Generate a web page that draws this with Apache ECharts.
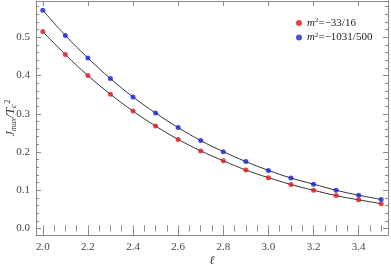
<!DOCTYPE html>
<html><head><meta charset="utf-8">
<script src="https://cdn.jsdelivr.net/npm/echarts@6/dist/echarts.min.js"></script>
<style>html,body{margin:0;padding:0;background:#fff}#c{width:391px;height:271px}</style>
</head><body><div id="c"></div>
<script>
const ell = [2.0,2.1,2.2,2.3,2.4,2.5,2.6,2.7,2.8,2.9,3.0,3.1,3.2,3.3,3.4,3.5];
const redVals = [0.515,0.455,0.400,0.351,0.307,0.268,0.233,0.203,0.177,0.153,0.133,0.115,0.100,0.086,0.075,0.065];
const blueVals = [0.571,0.505,0.446,0.392,0.344,0.302,0.264,0.230,0.201,0.175,0.152,0.132,0.116,0.100,0.087,0.076];
const xTicks = [2.0,2.2,2.4,2.6,2.8,3.0,3.2,3.4];
const xMinor = [2.0,2.05,2.1,2.15,2.2,2.25,2.3,2.35,2.4,2.45,2.5,2.55,2.6,2.65,2.7,2.75,2.8,2.85,2.9,2.95,3.0,3.05,3.1,3.15,3.2,3.25,3.3,3.35,3.4,3.45,3.5];
const yTicks = [0.0,0.1,0.2,0.3,0.4,0.5];
const yMinor = [0.0,0.02,0.04,0.06,0.08,0.1,0.12,0.14,0.16,0.18,0.2,0.22,0.24,0.26,0.28,0.3,0.32,0.34,0.36,0.38,0.4,0.42,0.44,0.46,0.48,0.5,0.52,0.54,0.56,0.58];
const redName = 'm2=-33/16', blueName = 'm2=-1031/500';

const pair = v => ell.map((x,i)=>[x,v[i]]);
const font = '"Liberation Serif", "DejaVu Serif", serif';
const axisCol = '#888';
const lab = {fontFamily:font,fontSize:11,color:'#444'};
const chart = echarts.init(document.getElementById('c'));
const X0 = 1.97, X1 = 3.53, Y0 = -0.017, Y1 = 0.595;
function xAx(pos, opts){
  return Object.assign({type:'value',min:X0,max:X1,position:pos,
    axisLine:{show:true,onZero:false,lineStyle:{color:axisCol}},
    axisTick:{show:true,inside:true,length:5,customValues:xTicks,lineStyle:{color:axisCol}},
    axisLabel:{show:false},splitLine:{show:false}},opts||{});
}
function yAx(pos, opts){
  return Object.assign({type:'value',min:Y0,max:Y1,position:pos,
    axisLine:{show:true,onZero:false,lineStyle:{color:axisCol}},
    axisTick:{show:true,inside:true,length:5,customValues:yTicks,lineStyle:{color:axisCol}},
    axisLabel:{show:false},splitLine:{show:false}},opts||{});
}
const xMinorTick = {show:true,inside:true,length:3,customValues:xMinor,lineStyle:{color:axisCol}};
const yMinorTick = {show:true,inside:true,length:3,customValues:yMinor,lineStyle:{color:axisCol}};
chart.setOption({
  animation:false,
  grid:{left:36,right:3,top:1,bottom:36,outerBoundsMode:'none',containLabel:false},
  legend:{left:291,top:12,orient:'vertical',itemWidth:6,itemHeight:6,itemGap:3,
    data:[{name:redName,icon:'circle'},{name:blueName,icon:'circle'}],
    formatter:n=> n===redName?'{i|m}{s|2}=\u221233/16':'{i|m}{s|2}=\u22121031/500',
    textStyle:{fontFamily:font,fontSize:11,color:'#222',
      rich:{i:{fontStyle:'italic',fontFamily:font,fontSize:11},s:{fontFamily:font,fontSize:7,verticalAlign:'top',padding:[0,0,5,0]}}}},
  xAxis:[
    xAx('bottom',{axisLabel:Object.assign({},lab,{show:true,margin:7,customValues:xTicks,formatter:v=>v.toFixed(1)}),
      name:'\u2113',nameLocation:'middle',nameGap:20,nameMoveOverlap:false,nameTextStyle:{fontFamily:font,fontStyle:'italic',fontSize:12,color:'#333'}}),
    xAx('top'),
    xAx('bottom',{axisLine:{show:false},axisTick:xMinorTick}),
    xAx('top',{axisLine:{show:false},axisTick:xMinorTick})
  ],
  yAxis:[
    yAx('left',{axisLabel:Object.assign({},lab,{show:true,margin:6,customValues:yTicks,formatter:v=>v.toFixed(1)}),
      name:'{i|J}{sb|max}{i|/T}{sb|c}{sp|2}',nameLocation:'middle',nameGap:18,nameRotate:90,nameMoveOverlap:false,
      nameTextStyle:{fontFamily:font,fontSize:12,color:'#333',
        rich:{i:{fontFamily:font,fontStyle:'italic',fontSize:12,color:'#333'},
              sb:{fontFamily:font,fontStyle:'italic',fontSize:8,color:'#333',verticalAlign:'bottom',padding:[5,0,0,0]},
              sp:{fontFamily:font,fontSize:8,color:'#333',verticalAlign:'top',padding:[0,0,6,1]}}}}),
    yAx('right'),
    yAx('left',{axisLine:{show:false},axisTick:yMinorTick}),
    yAx('right',{axisLine:{show:false},axisTick:yMinorTick})
  ],
  series:[
    {type:'line',name:'fitR',data:pair(redVals),smooth:0.4,symbol:'none',lineStyle:{color:'#333',width:1},z:2},
    {type:'line',name:'fitB',data:pair(blueVals),smooth:0.4,symbol:'none',lineStyle:{color:'#333',width:1},z:2},
    {type:'scatter',name:redName,data:pair(redVals),symbolSize:5,itemStyle:{color:'#e8141a'},z:3},
    {type:'scatter',name:blueName,data:pair(blueVals),symbolSize:5,itemStyle:{color:'#1420e0'},z:3}
  ]
});
</script></body></html>
